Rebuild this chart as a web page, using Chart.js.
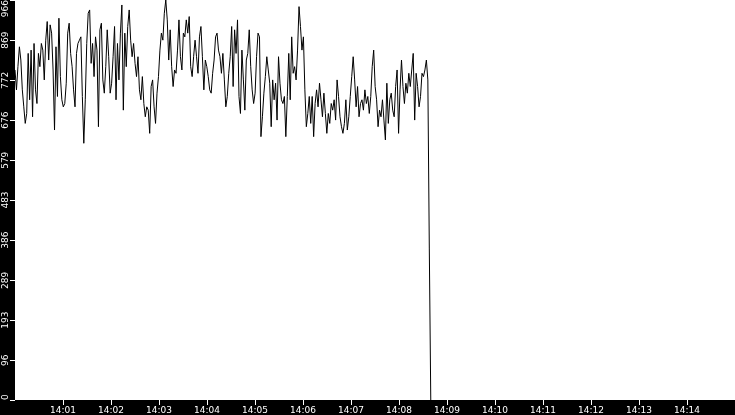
<!DOCTYPE html>
<html><head><meta charset="utf-8">
<script src="https://cdn.jsdelivr.net/npm/chart.js@4.4.0/dist/chart.umd.min.js"></script>
<style>html,body{margin:0;padding:0;background:#000;overflow:hidden}canvas{display:block}</style>
</head><body>
<canvas id="c" width="735" height="415"></canvas>
<script>
// ---- data ----
const SAMPLE_SECONDS = 1.83;          // spacing between samples, seconds after 14:00
const VALUES = [
  797, 749, 805, 853, 821, 749, 708, 668, 692, 837, 725, 845, 684, 861, 749, 716, 837, 805, 861, 845, 773, 869, 914, 821, 906, 886, 797, 652, 853, 733, 922, 781, 725, 708, 716, 765, 886, 910, 837, 805, 749, 708, 837, 861, 869,
  877, 733, 620, 725, 861, 934, 942, 813, 861, 781, 877, 845, 660, 894, 910, 773, 741, 805, 894, 829, 741, 765, 829, 902, 725, 861, 773, 886, 954, 700, 886, 805, 902, 942, 869, 829, 861, 813, 781, 829, 749, 725, 781, 716, 684, 708,
  700, 644, 757, 773, 708, 668, 741, 781, 845, 886, 869, 934, 966, 918, 821, 894, 805, 757, 797, 789, 845, 918, 829, 797, 886, 877, 918, 886, 926, 805, 781, 829, 869, 829, 789, 877, 902, 829, 749, 821, 805, 781, 749, 741, 789, 821, 877, 886,
  845, 829, 789, 837, 773, 708, 733, 789, 829, 902, 757, 894, 837, 918, 733, 692, 845, 773, 700, 821, 837, 894, 805, 749, 716, 741, 829, 886, 877, 636, 684, 741, 781, 829, 797, 765, 660, 773, 725, 765, 676, 829, 765, 725, 716, 733, 636, 733,
  837, 725, 877, 789, 805, 773, 845, 950, 902, 845, 877, 749, 660, 692, 733, 668, 733, 636, 716, 749, 708, 765, 725, 684, 741, 692, 644, 692, 668, 716, 700, 725, 676, 773, 733, 684, 660, 644, 668, 725, 652, 684, 733, 781, 829, 773, 708, 757, 684, 716,
  725, 700, 749, 716, 733, 692, 733, 805, 845, 757, 725, 660, 700, 684, 725, 676, 628, 765, 668, 725, 741, 700, 684, 757, 797, 644, 749, 821, 757, 716, 765, 741, 789, 757, 797, 837, 676, 789, 757, 708, 733, 789, 781, 797, 821, 773,
  367, 0
];
const X_MAX_SECONDS = 900;            // 14:00 .. 14:15
const X_TICK_SECONDS = [60,120,180,240,300,360,420,480,540,600,660,720,780,840];
const X_TICK_LABELS = ['14:01','14:02','14:03','14:04','14:05','14:06','14:07','14:08','14:09','14:10','14:11','14:12','14:13','14:14'];
const Y_MAX = 966;
const Y_TICK_VALUES = [0,96,193,289,386,483,579,676,772,869,966];
const Y_TICK_LABELS = ['0','96','193','289','386','483','579','676','772','869','966'];

const points = VALUES.map((v, i) => ({x: i * SAMPLE_SECONDS, y: v}));

Chart.defaults.font.family = 'DejaVu Sans';
Chart.defaults.font.size = 9;

const frame = {
  id: 'frame',
  beforeDraw(chart) {
    const {ctx, chartArea: a, width, height} = chart;
    ctx.save();
    ctx.fillStyle = '#000';
    ctx.fillRect(0, 0, width, height);
    ctx.fillStyle = '#fff';
    ctx.fillRect(a.left, a.top, a.right - a.left, a.bottom - a.top);
    // keep rotated y labels inside the plot height
    const items = chart.scales.y.getLabelItems();
    items.forEach(it => {
      ctx.font = it.font.string;
      const half = ctx.measureText(String(it.label)).width / 2;
      const t = it.options.translation;
      t[1] = Math.min(Math.max(t[1], a.top + half), a.bottom - half);
    });
    ctx.restore();
  }
};

const tickGrid = {display: true, drawOnChartArea: false, drawTicks: true, tickLength: 5, color: '#fff', lineWidth: 1};

new Chart(document.getElementById('c'), {
  type: 'line',
  data: {datasets: [{
    data: points,
    borderColor: '#000',
    borderWidth: 1,
    pointRadius: 0,
    tension: 0,
    fill: false
  }]},
  options: {
    responsive: false,
    animation: false,
    devicePixelRatio: 1,
    layout: {padding: 0},
    plugins: {legend: {display: false}, tooltip: {enabled: false}},
    scales: {
      x: {
        type: 'linear', min: 0, max: X_MAX_SECONDS,
        afterBuildTicks: s => { s.ticks = X_TICK_SECONDS.map(v => ({value: v})); },
        afterFit: s => { s.height = 15; s.paddingLeft = 0; s.paddingRight = 0; },
        ticks: {color: '#fff', minRotation: 0, maxRotation: 0, autoSkip: false, padding: 0,
                callback: (v, i) => X_TICK_LABELS[i]},
        grid: tickGrid,
        border: {display: false}
      },
      y: {
        type: 'linear', min: 0, max: Y_MAX,
        afterBuildTicks: s => { s.ticks = Y_TICK_VALUES.map(v => ({value: v})); },
        afterFit: s => { s.width = 15; s.paddingTop = 0; s.paddingBottom = 0; },
        ticks: {color: '#fff', minRotation: 90, maxRotation: 90, crossAlign: 'center', padding: -4, autoSkip: false,
                callback: (v, i) => Y_TICK_LABELS[i]},
        grid: tickGrid,
        border: {display: false}
      }
    }
  },
  plugins: [frame]
});
</script>
</body></html>
